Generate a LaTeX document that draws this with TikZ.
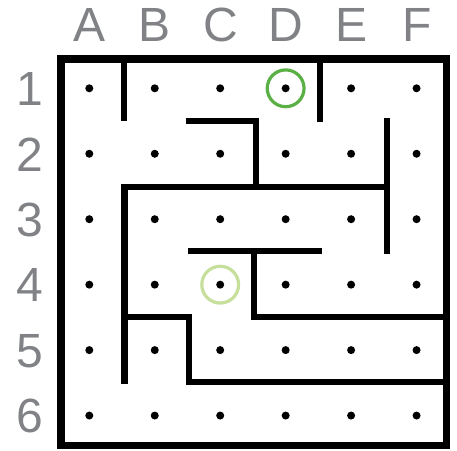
\documentclass[tikz,border=0pt]{standalone}
\usepackage{fontspec}
\setmainfont{Liberation Sans}
\definecolor{lbl}{HTML}{808285}
\definecolor{darkg}{HTML}{5AAF45}
\definecolor{lightg}{HTML}{C6E09C}
\begin{document}
\begin{tikzpicture}[x=0.75pt,y=-0.75pt,
  wall/.style={line width=4.6pt,line cap=rect},
  border/.style={line width=5.6pt},
  dotmark/.style={circle,fill=black,inner sep=0pt,minimum size=6pt},
  lab/.style={text=lbl,font=\fontsize{36}{36}\selectfont,inner sep=0pt},
  ring/.style={circle,draw,line width=2.4pt,minimum size=27.6pt,inner sep=0pt}]
\useasboundingbox (0,0) rectangle (457,450);
% labels
\foreach \c [count=\i from 0] in {A,B,C,D,E,F}
  \node[lab] (col\c) at (89.5+65.45*\i,25) {\c};
\foreach \r [count=\i from 0] in {1,...,6}
  \node[lab] (row\r) at (30,89+65.45*\i) {\r};
% dots
\foreach \c [count=\i from 0] in {A,B,C,D,E,F}
  \foreach \r [count=\j from 0] in {1,...,6}
    \node[dotmark] (\c\r) at (89.3+65.45*\i,88.3+65.45*\j) {};
% rings
\node[ring,draw=darkg] (ringD1) at (D1) {};
\node[ring,draw=lightg] (ringC4) at (C4) {};
% border
\draw[border] (61,59) rectangle (446.5,445.5);
% walls
\draw[wall,line cap=butt] (124,59) -- (124,121);
\draw[wall,line cap=butt] (319.7,59) -- (319.7,121.7);
\draw[wall] (189.5,121) -- (256,121) -- (256,186.7);
\draw[wall] (386.7,121) -- (386.7,251);
\draw[wall] (386.7,186.7) -- (124.5,186.7) -- (124.5,381);
\draw[wall] (191,251) -- (319,251);
\draw[wall] (254.3,251) -- (254.3,317) -- (446.5,317);
\draw[wall] (124.5,317) -- (189.3,317) -- (189.3,382) -- (446.5,382);
\end{tikzpicture}
\end{document}
